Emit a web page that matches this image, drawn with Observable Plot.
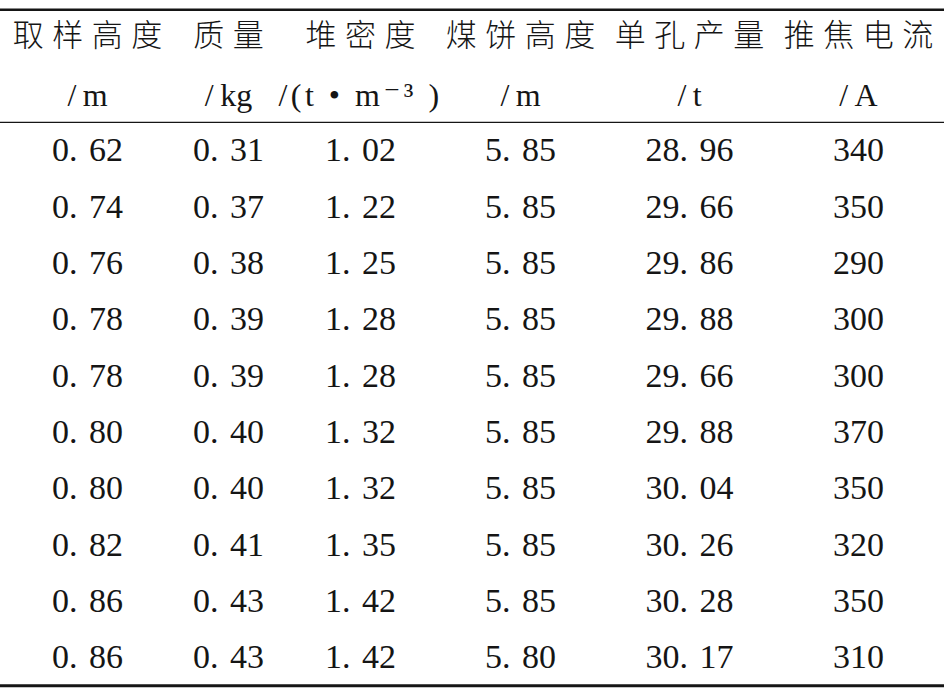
<!DOCTYPE html>
<html><head><meta charset="utf-8">
<script src="https://cdn.jsdelivr.net/npm/d3@7"></script>
<script src="https://cdn.jsdelivr.net/npm/@observablehq/plot@0.6"></script>
<style>
html,body{margin:0;padding:0;background:#fff}
</style></head><body><div id="chart"></div>
<script>
// ---- data ----
const headers = ["取样高度", "质量", "堆密度", "煤饼高度", "单孔产量", "推焦电流"];
const units = ["/\u2009m", "/\u2009kg", "/(t • m⁻³ )", "/\u2009m", "/\u2009t", "/\u2009A"];
const samplingHeight = [0.62, 0.74, 0.76, 0.78, 0.78, 0.80, 0.80, 0.82, 0.86, 0.86];
const mass = [0.31, 0.37, 0.38, 0.39, 0.39, 0.40, 0.40, 0.41, 0.43, 0.43];
const bulkDensity = [1.02, 1.22, 1.25, 1.28, 1.28, 1.32, 1.32, 1.35, 1.42, 1.42];
const cakeHeight = [5.85, 5.85, 5.85, 5.85, 5.85, 5.85, 5.85, 5.85, 5.85, 5.80];
const yieldPerHole = [28.96, 29.66, 29.86, 29.88, 29.66, 29.88, 30.04, 30.26, 30.28, 30.17];
const pushCurrent = [340, 350, 290, 300, 300, 370, 350, 320, 350, 310];

// ---- layout ----
const colCenter = [87, 228, 360, 520, 689, 858];
const headerRow = -2.03, unitRow = -0.97;
const ruleRows = {top: -2.5, mid: -0.5, bottom: 9.5};
const headerSpacing = 8.5;
const unitSpacing = 3.5;

const fmt2 = v => v.toFixed(2).replace(".", ".\u2004");
const fmt0 = v => String(v);
const columns = [samplingHeight, mass, bulkDensity, cakeHeight, yieldPerHole, pushCurrent];
const formats = [fmt2, fmt2, fmt2, fmt2, fmt2, fmt0];

const cells = [];
columns.forEach((vals, j) => vals.forEach((v, i) => cells.push({x: colCenter[j], row: i, label: formats[j](v)})));
const headCells = headers.map((h, j) => ({x: colCenter[j], row: headerRow, label: h}));
const unitCells = units.map((u, j) => ({x: colCenter[j], row: unitRow, label: u}));

const ink = "#151515";
const chart = Plot.plot({
  width: 944, height: 688, margin: 0,
  x: {domain: [0, 944], axis: null},
  y: {domain: [-2.663, 9.551], reverse: true, axis: null},
  style: {background: "#fff", color: ink},
  marks: [
    Plot.ruleY([ruleRows.top], {stroke: ink, strokeWidth: 2.5}),
    Plot.ruleY([ruleRows.mid], {stroke: ink, strokeWidth: 1.4}),
    Plot.ruleY([ruleRows.bottom], {stroke: ink, strokeWidth: 3}),
    Plot.text(headCells, {x: "x", y: "row", text: "label", fill: ink, fontSize: 31, fontWeight: 300,
      dx: headerSpacing / 2, fontFamily: "'Noto Sans CJK SC'"}),
    Plot.text(unitCells, {x: "x", y: "row", text: "label", fill: ink, fontSize: 32,
      fontFamily: "'Liberation Serif','DejaVu Serif'"}),
    Plot.text(cells, {x: "x", y: "row", text: "label", fill: ink, fontSize: 34,
      fontFamily: "'Liberation Serif','DejaVu Serif'"})
  ]
});
d3.select(chart).selectAll("text").each(function () {
  const t = this.textContent;
  if (headers.includes(t)) this.style.letterSpacing = headerSpacing + "px";
  else if (units.includes(t) && t.includes("(")) this.style.letterSpacing = unitSpacing + "px";
});
document.getElementById("chart").appendChild(chart);
</script></body></html>
